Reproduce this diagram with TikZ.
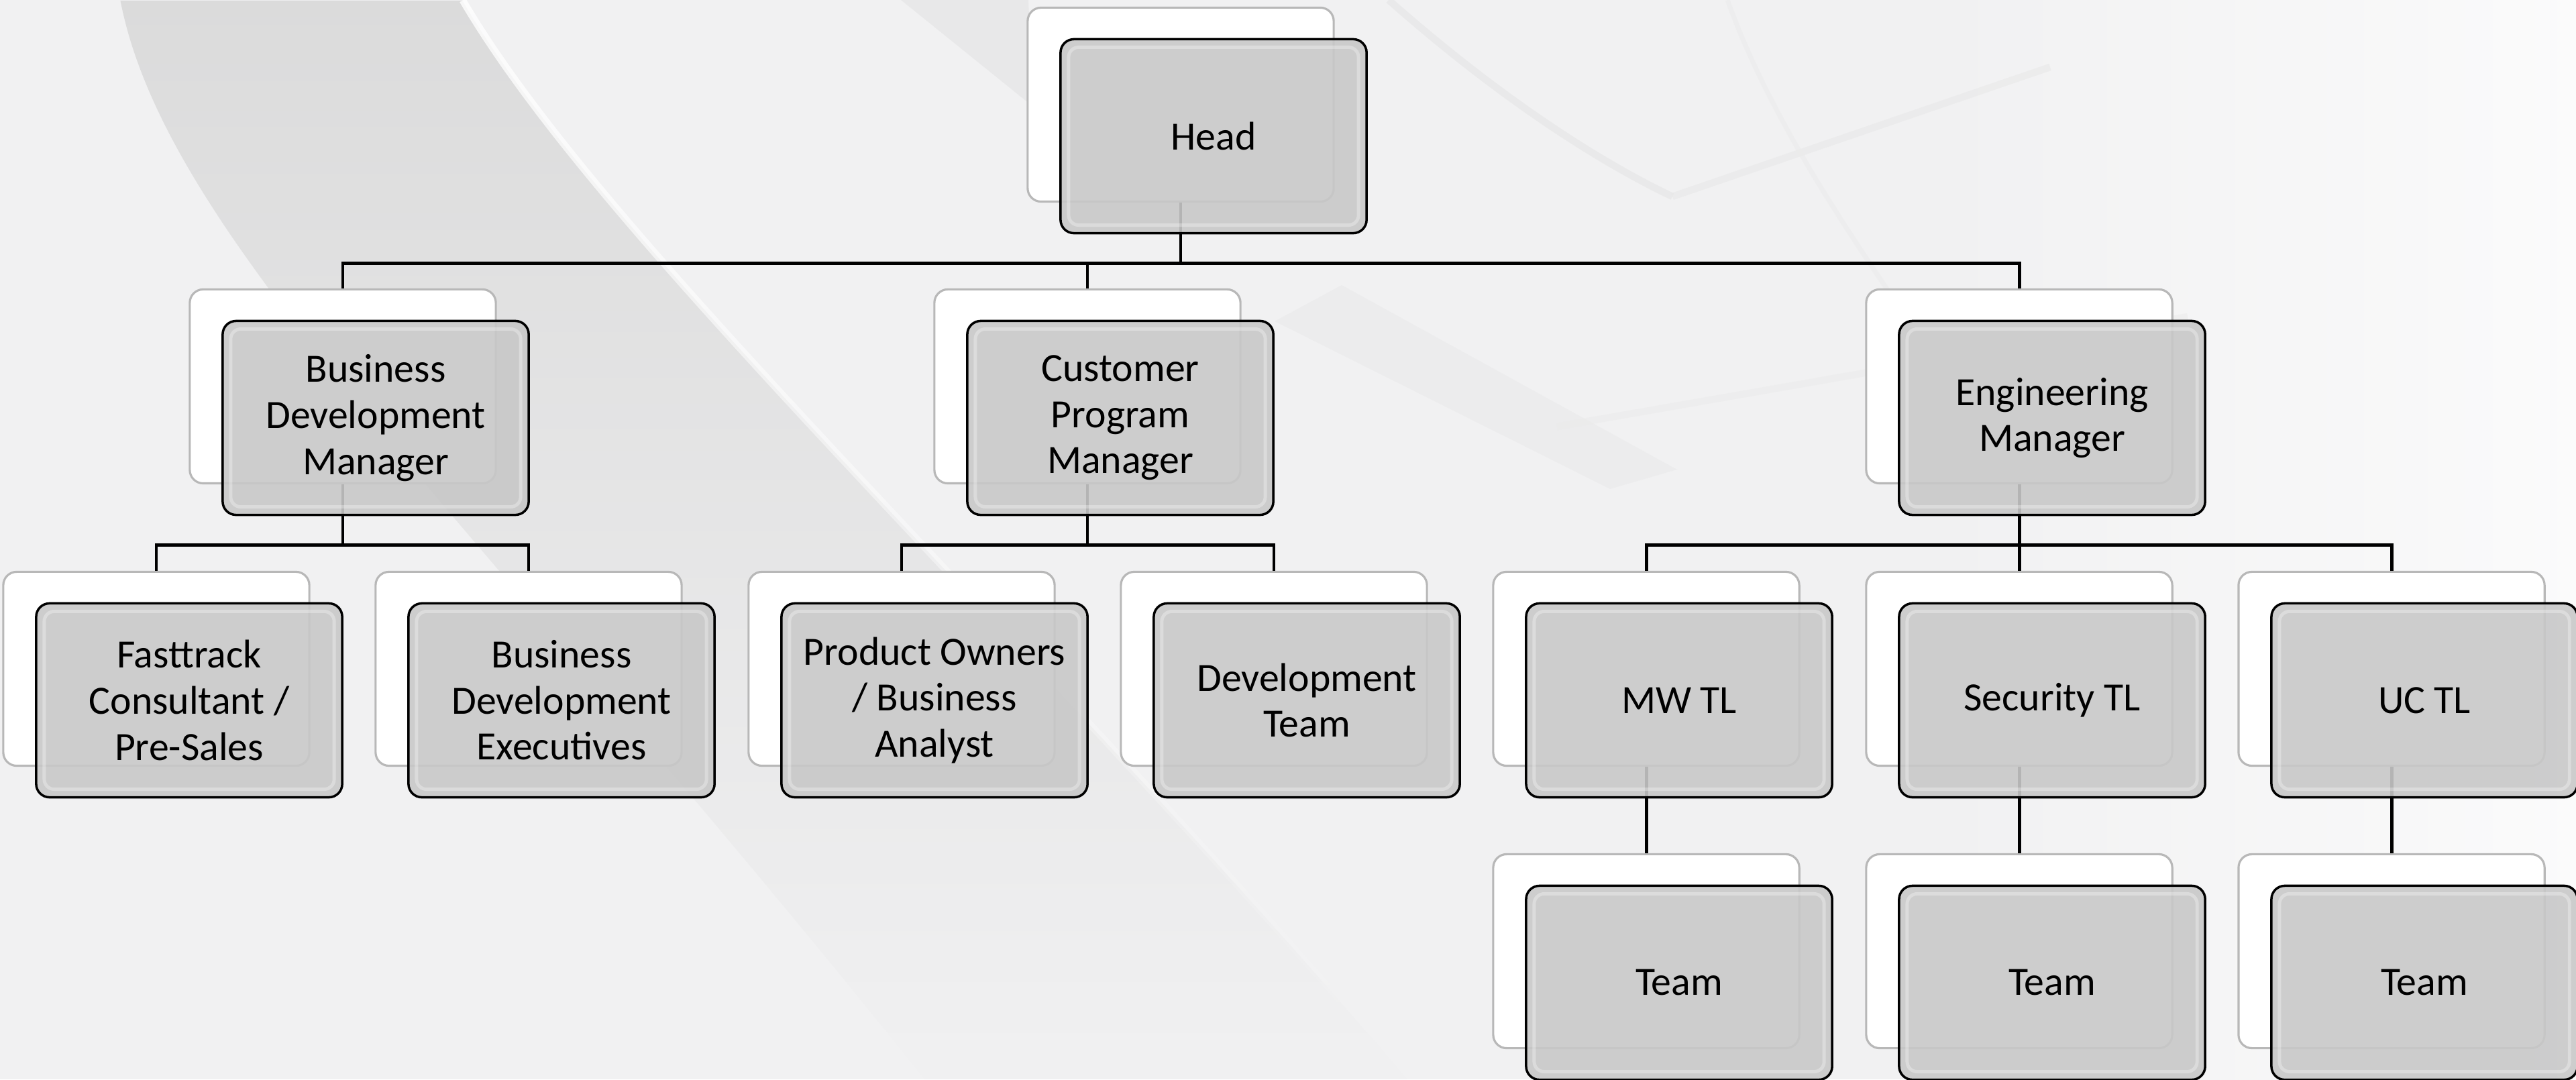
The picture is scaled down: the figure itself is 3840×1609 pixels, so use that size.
\documentclass[tikz,border=0pt]{standalone}
\usepackage{fontspec}
\setmainfont{Carlito}
\usetikzlibrary{fadings}
\definecolor{boxgray}{HTML}{C8C8C8}
\definecolor{bgcol}{HTML}{F1F1F2}
\definecolor{bandcol}{HTML}{D6D6D6}

\begin{document}
\begin{tikzpicture}
  [x=0.01cm,y=0.01cm,
   backbox/.style={rectangle,rounded corners=0.2cm,minimum width=4.56cm,minimum height=2.89cm,
     inner sep=0pt,fill=white,draw=black!28,line width=0.9pt},
   frontbox/.style={rectangle,rounded corners=0.2cm,minimum width=4.56cm,minimum height=2.89cm,
     inner sep=0pt,xshift=0.49cm,yshift=-0.47cm,fill=boxgray,fill opacity=0.9,text opacity=1,
     draw=black,line width=1pt,align=center,font=\fontsize{17}{19.5}\selectfont,
     path picture={\draw[white,opacity=.3,line width=1.4pt,rounded corners=0.15cm]
       ([shift={(12,-12)}]path picture bounding box.north west) rectangle
       ([shift={(-12,12)}]path picture bounding box.south east);}},
   link/.style={line width=1.4pt,black}]
  \useasboundingbox (0,0) rectangle (3840,1609);
  % background with soft swooshes
  \fill[bgcol] (0,0) rectangle (3840,1609);
  \shade[left color=bgcol,right color=white!70!bgcol,shading angle=90]
    (2900,0) rectangle (3840,1609);
  \fill[bandcol,opacity=.8,path fading=south]
    (180,1609) .. controls (250,1250) and (700,850) .. (1380,0)
    -- (2100,0) .. controls (1500,700) and (900,1250) .. (690,1609) -- cycle;
  \draw[white,line width=3pt,opacity=.8,path fading=south]
    (2100,0) .. controls (1500,700) and (900,1250) .. (690,1609);
  \fill[bandcol,opacity=.3] (1343,1609) -- (1533,1609) -- (1540,1450) -- cycle;
  \fill[bandcol,opacity=.15] (1900,1130) -- (2000,1184) -- (2500,909) -- (2400,880) -- cycle;
  \draw[black!10,line width=3pt,opacity=.6] (2070,1609) .. controls (2250,1450) and (2400,1360) .. (2493,1316);
  \draw[black!9,line width=3pt,opacity=.6] (2493,1316) -- (3056,1509);
  \draw[black!8,line width=3pt,opacity=.5] (2321,973) -- (3261,1137);
  \draw[black!8,line width=2pt,opacity=.5] (2575,1609) .. controls (2650,1400) and (2800,1200) .. (2900,1050);

  \node[backbox] (head) at (1760,1453) {};
  \node[backbox] (bdm) at (511,1033) {};
  \node[backbox] (cpm) at (1621,1033) {};
  \node[backbox] (em) at (3010,1033) {};
  \node[backbox] (fast) at (233,612) {};
  \node[backbox] (bde) at (788,612) {};
  \node[backbox] (po) at (1344,612) {};
  \node[backbox] (dev) at (1899,612) {};
  \node[backbox] (mw) at (2454,612) {};
  \node[backbox] (sec) at (3010,612) {};
  \node[backbox] (uc) at (3565,612) {};
  \node[backbox] (mwteam) at (2454,191) {};
  \node[backbox] (secteam) at (3010,191) {};
  \node[backbox] (ucteam) at (3565,191) {};

  \foreach \from/\to in {head/bdm,head/cpm,head/em,bdm/fast,bdm/bde,cpm/po,cpm/dev,
                         em/mw,em/sec,em/uc,mw/mwteam,sec/secteam,uc/ucteam}
    \draw[link] (\from.south) -- ++(0,-90) -| (\to.north);

  \node[frontbox] (head-f) at (head) {Head};
  \node[frontbox] (bdm-f) at (bdm) {Business\\Development\\Manager};
  \node[frontbox] (cpm-f) at (cpm) {Customer\\Program\\Manager};
  \node[frontbox] (em-f) at (em) {Engineering\\Manager};
  \node[frontbox] (fast-f) at (fast) {Fasttrack\\Consultant /\\Pre-Sales};
  \node[frontbox] (bde-f) at (bde) {Business\\Development\\Executives};
  \node[frontbox] (po-f) at (po) {Product Owners\\/ Business\\Analyst};
  \node[frontbox] (dev-f) at (dev) {Development\\Team};
  \node[frontbox] (mw-f) at (mw) {MW TL};
  \node[frontbox] (sec-f) at (sec) {Security TL};
  \node[frontbox] (uc-f) at (uc) {UC TL};
  \node[frontbox] (mwteam-f) at (mwteam) {Team};
  \node[frontbox] (secteam-f) at (secteam) {Team};
  \node[frontbox] (ucteam-f) at (ucteam) {Team};
\end{tikzpicture}
\end{document}
